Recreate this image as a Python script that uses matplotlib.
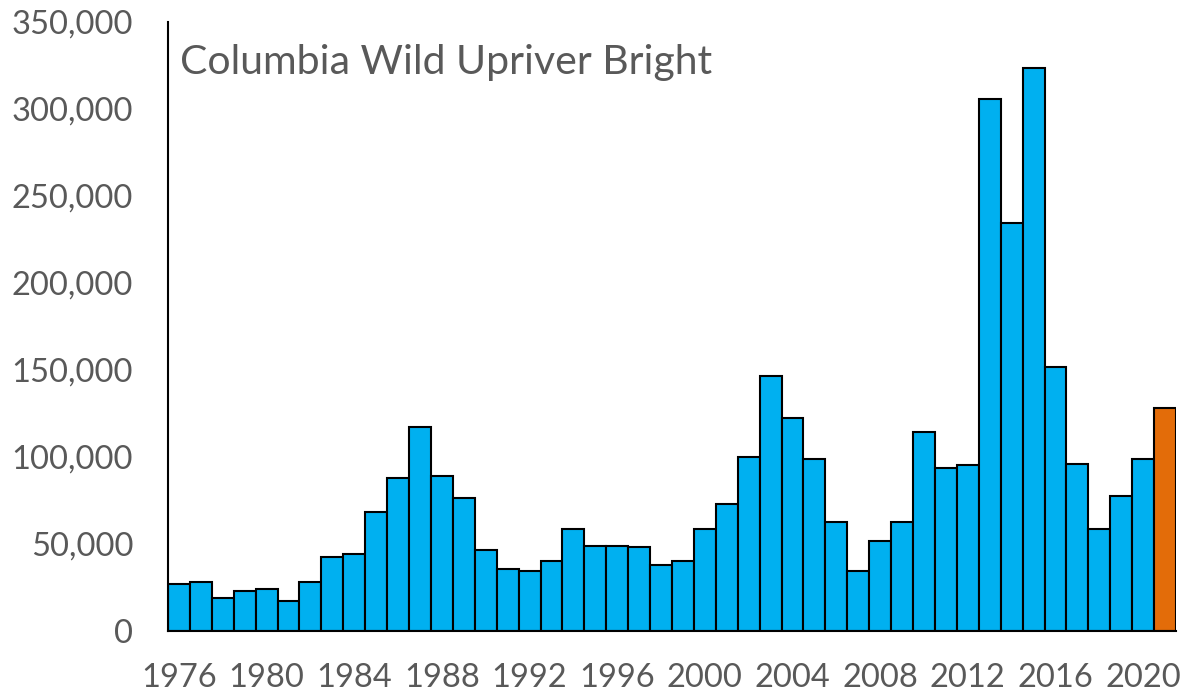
import matplotlib.pyplot as plt
from matplotlib.ticker import FuncFormatter

# Columbia wild upriver bright chinook, yearly counts
years = list(range(1976, 2022))
counts = [26800, 28200, 18800, 22800, 24000, 17200, 27900, 42300, 44000, 68200,
          87900, 117000, 88800, 76200, 46500, 35700, 34500, 40200, 58500, 48900,
          48700, 48000, 37900, 40100, 58500, 72900, 99900, 146600, 122700, 98800,
          62500, 34200, 51700, 62500, 114500, 93600, 95200, 305800, 234300, 323800,
          151600, 96100, 58700, 77500, 98700, 128300]
tick_years = list(range(1976, 2021, 4))
title = "Columbia Wild Upriver Bright"

blue = "#00B0F0"
orange = "#E36C09"
grey = "#595959"

plt.rcParams['font.family'] = ['Lato', 'DejaVu Sans']

fig = plt.figure(figsize=(11.84, 6.98), dpi=100)
ax = fig.add_axes([168/1184, 67/698, 1008/1184, 609/698])

colors = [blue] * (len(years) - 1) + [orange]
x = list(range(len(years)))
ax.bar(x, counts, width=1.0, color=colors, edgecolor="black", linewidth=1.5)

ax.set_xlim(-0.5, len(years) - 0.5)
ax.set_ylim(0, 350000)
ax.set_yticks(range(0, 350001, 50000))
ax.yaxis.set_major_formatter(FuncFormatter(lambda v, p: "{:,.0f}".format(v)))
ax.set_xticks([years.index(y) for y in tick_years])
ax.set_xticklabels([str(y) for y in tick_years])

ax.tick_params(axis='both', length=0, labelsize=23.5, labelcolor=grey)
ax.tick_params(axis='y', pad=25)
ax.tick_params(axis='x', pad=23)

for s in ['top', 'right']:
	ax.spines[s].set_visible(False)
ax.spines['left'].set_color('black')
ax.spines['bottom'].set_color('black')
ax.spines['left'].set_linewidth(1.5)
ax.spines['bottom'].set_linewidth(1.5)

ax.text(0.012, 0.934, title, transform=ax.transAxes, fontsize=29.5,
		color=grey, va='center', ha='left')

fig.savefig("out.png", dpi=100)
